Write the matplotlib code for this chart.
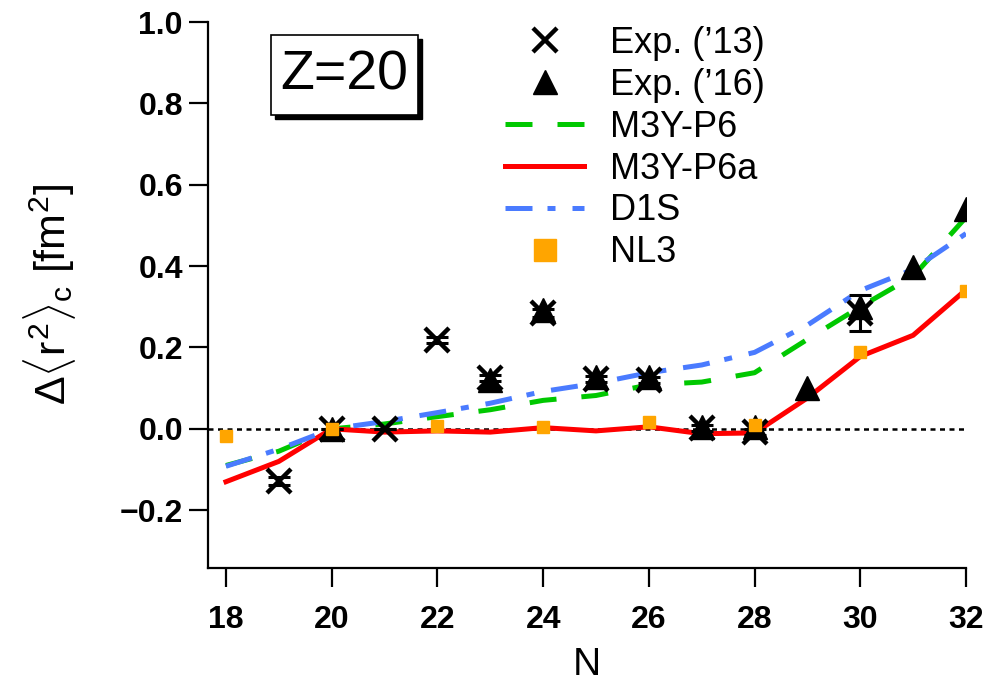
import numpy as np
import matplotlib
matplotlib.use("Agg")
import matplotlib.pyplot as plt
from matplotlib.patches import Rectangle

plt.rcParams['font.family'] = ['Liberation Sans', 'DejaVu Sans']
plt.rcParams['mathtext.fontset'] = 'custom'
plt.rcParams['mathtext.rm'] = 'Liberation Sans'
plt.rcParams['mathtext.it'] = 'Liberation Sans'
plt.rcParams['mathtext.bf'] = 'Liberation Sans:bold'

# data
N_calc = [18, 19, 20, 21, 22, 23, 24, 25, 26, 27, 28, 29, 30, 31, 32]
m3y_p6 = [-0.090, -0.055, 0.0, 0.012, 0.030, 0.047, 0.070, 0.082, 0.108, 0.115, 0.138, 0.220, 0.300, 0.375, 0.520]
m3y_p6a = [-0.130, -0.080, 0.0, -0.008, -0.005, -0.008, 0.003, -0.005, 0.005, -0.012, -0.010, 0.076, 0.178, 0.230, 0.342]
d1s = [-0.092, -0.050, 0.0, 0.018, 0.040, 0.063, 0.092, 0.112, 0.138, 0.157, 0.188, 0.255, 0.340, 0.392, 0.480]

N_nl3 = [18, 20, 22, 24, 26, 28, 30, 32]
nl3 = [-0.018, 0.0, 0.006, 0.005, 0.017, 0.010, 0.188, 0.340]

N_13 = [19, 20, 21, 22, 23, 24, 25, 26, 27, 28, 30]
exp13 = [-0.128, 0.0, 0.0, 0.218, 0.125, 0.285, 0.122, 0.120, 0.002, -0.008, 0.285]
err13 = [0.010, 0.0, 0.0, 0.008, 0.008, 0.010, 0.008, 0.008, 0.008, 0.008, 0.045]

N_16 = [20, 23, 24, 25, 26, 27, 28, 29, 30, 31, 32]
exp16 = [0.0, 0.120, 0.292, 0.128, 0.128, 0.005, 0.005, 0.100, 0.300, 0.398, 0.540]

xticks = [18, 20, 22, 24, 26, 28, 30, 32]
yticks = [-0.2, 0.0, 0.2, 0.4, 0.6, 0.8, 1.0]

green = '#00c800'
red = '#ff0000'
blue = '#4a7bff'
orange = '#ffa500'

fig = plt.figure(figsize=(9.87, 6.81), dpi=100)
ax = fig.add_axes([208/987, 1-568/681, (966-208)/987, (568-22)/681])

ax.axhline(0, color='k', lw=1.8, ls=(0, (2, 1.8)), zorder=1)

ax.plot(N_calc, m3y_p6, color=green, lw=3.6, dashes=(5.4, 5.0), label='M3Y-P6', zorder=2)
ax.plot(N_calc, m3y_p6a, color=red, lw=3.6, label='M3Y-P6a', zorder=2)
ax.plot(N_calc, d1s, color=blue, lw=3.6, dashes=(5.4, 3.0, 1.6, 3.4), label='D1S', zorder=2)

ax.errorbar(N_13, exp13, yerr=err13, fmt='none', ecolor='k', elinewidth=2.2, capsize=8, capthick=2.2, zorder=3)
ax.plot(N_13, exp13, ls='none', marker='x', ms=17, mew=3.2, color='k', label='Exp. (\u201913)', zorder=4)
ax.plot(N_16, exp16, ls='none', marker='^', ms=17, color='k', label='Exp. (\u201916)', zorder=4)
ax.plot(N_nl3, nl3, ls='none', marker='s', ms=8, color=orange, mec=orange, label='NL3', zorder=5)

ax.set_xlim(17.66, 32)
ax.set_ylim(-0.342, 1.0)
ax.set_xticks(xticks)
ax.set_xticklabels([str(t) for t in xticks])
ax.set_yticks(yticks)
ax.set_yticklabels(['\u22120.2', '0.0', '0.2', '0.4', '0.6', '0.8', '1.0'])

for s in ['top', 'right']:
    ax.spines[s].set_visible(False)
for s in ['left', 'bottom']:
    ax.spines[s].set_linewidth(1.6)

ax.tick_params(axis='both', direction='out', length=14, width=1.6, labelsize=23)
ax.tick_params(axis='x', pad=13)
ax.tick_params(axis='y', pad=4)
for lab in ax.get_xticklabels() + ax.get_yticklabels():
    lab.set_fontweight('bold')

ax.set_xlabel('N', fontsize=28, labelpad=8)
ax.set_ylabel(r'$\Delta\langle r^{2}\rangle_{c}$ [fm$^{2}$]', fontsize=31, labelpad=30)

handles, labels = ax.get_legend_handles_labels()
order = [3, 4, 0, 1, 2, 5]
leg = ax.legend([handles[i] for i in order], [labels[i] for i in order],
                loc='upper left', bbox_to_anchor=(505/987, 1-26/681), bbox_transform=fig.transFigure,
                frameon=False, fontsize=26, handlelength=2.2, handletextpad=0.7,
                labelspacing=0.19, borderpad=0, borderaxespad=0)
leg.legend_handles[5].set_markersize(16)

# Z=20 box with shadow
fig.add_artist(Rectangle((275/987, 1-119/681), 147/987, 80/681, transform=fig.transFigure,
                         facecolor='k', edgecolor='k', zorder=10))
fig.add_artist(Rectangle((271/987, 1-115/681), 147/987, 80/681, transform=fig.transFigure,
                         facecolor='white', edgecolor='k', lw=1.2, zorder=11))
fig.text(344.5/987, 1-76/681, 'Z=20', fontsize=40, ha='center', va='center', zorder=12)

fig.savefig('out.png', dpi=100)
